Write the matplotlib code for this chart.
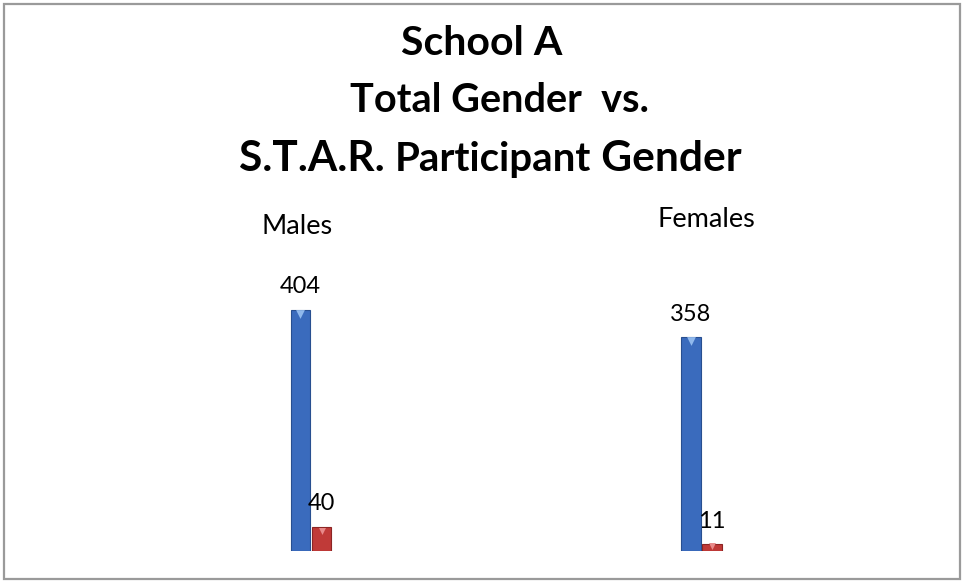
import matplotlib
matplotlib.use('Agg')
import matplotlib.pyplot as plt
from matplotlib.patches import Rectangle

# ─── Data ───
categories = ['Males', 'Females']
total_gender = [404, 358]
star_gender = [40, 11]
title_lines = ['School A', 'Total Gender  vs.']
title_last = [('S.T.A.R. ', 30.5), ('Participant', 29), (' Gender', 30.5)]

BLUE = '#3a6bbd'
BLUE_EDGE = '#284f90'
RED = '#c03a38'
RED_EDGE = '#8c2524'
FONT = 'Lato'

W, H, DPI = 964, 581, 100
fig = plt.figure(figsize=(W / DPI, H / DPI), dpi=DPI)
fig.patch.set_facecolor('white')

# outer frame of the chart
fig.patches.append(Rectangle((4 / W, 2 / H), (W - 8) / W, (H - 6) / H,
                             transform=fig.transFigure, fill=False,
                             edgecolor='#9a9a9a', linewidth=1.6))

# plot area: baseline at y=551 px, ~0.597 px per unit
ax = fig.add_axes([0, 30 / H, 1, 358 / H])
ax.set_xlim(-311 / 390.5, (W - 311) / 390.5)
ax.set_ylim(0, 600)
ax.axis('off')

x = list(range(len(categories)))
bw = 0.05
off = 0.027
xb = [i - off for i in x]
xr = [i + off for i in x]
ax.bar(xb, total_gender, width=bw, color=BLUE, edgecolor=BLUE_EDGE, linewidth=0.8)
ax.bar(xr, star_gender, width=bw, color=RED, edgecolor=RED_EDGE, linewidth=0.8)
# light bevel on top of the bars
ax.scatter(xb, [v - 6 for v in total_gender], marker='v', s=40, color='#8fb8ec', zorder=3, linewidths=0)
ax.scatter(xr, [v - 6 if v > 20 else v - 3 for v in star_gender], marker='v', s=25,
           color='#e88a8a', zorder=3, linewidths=0)

for xs, vals in ((xb, total_gender), (xr, star_gender)):
    for xi, v in zip(xs, vals):
        ax.annotate(str(v), (xi, v), xytext=(0, 12), textcoords='offset points',
                    ha='center', va='baseline', fontsize=17, family=FONT, annotation_clip=False)

# category labels sit above the bars
cat_pos = [(-0.035, 531), (1.012, 543)]
for name, (cx, cy) in zip(categories, cat_pos):
    ax.text(cx, cy, name, ha='center', va='baseline', fontsize=19.5, family=FONT, clip_on=False)

# ─── Title ───
fig.text(481.5 / W, 1 - 55 / H, title_lines[0], ha='center', va='baseline',
         fontsize=29.5, fontweight='bold', family=FONT)
fig.text(499.5 / W, 1 - 112 / H, title_lines[1], ha='center', va='baseline',
         fontsize=28.5, fontweight='bold', family=FONT)

# last title line mixes two sizes: lay pieces out left to right, then center
renderer = fig.canvas.get_renderer()
pieces = []
xpos = 0
for s, fs in title_last:
    t = fig.text(0, 1 - 171 / H, s, ha='left', va='baseline',
                 fontsize=fs, fontweight='bold', family=FONT)
    pieces.append((t, xpos))
    xpos += t.get_window_extent(renderer).width
left = 490.5 - xpos / 2
for t, px in pieces:
    t.set_x((left + px) / W)

fig.savefig('out.png', dpi=DPI)
